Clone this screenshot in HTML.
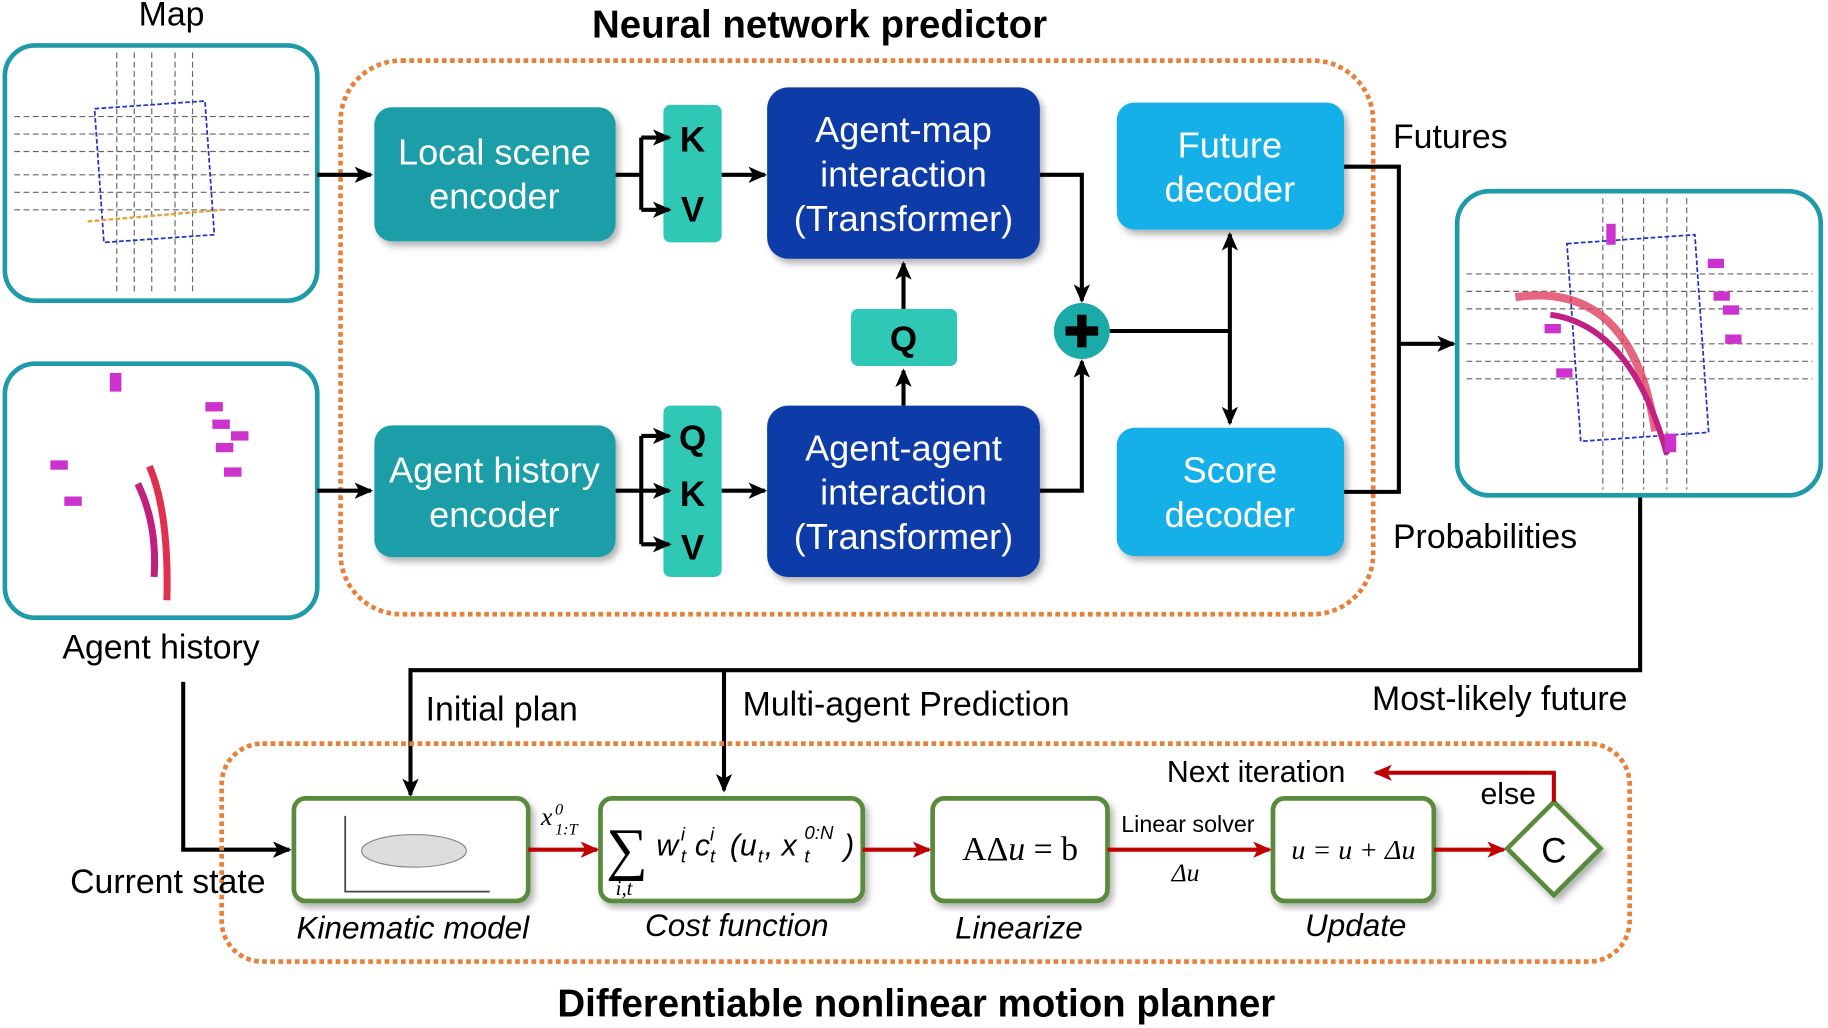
<!DOCTYPE html>
<html><head><meta charset="utf-8"><style>
html,body{margin:0;padding:0;background:#fff;}
svg{display:block;}
text{font-family:"Liberation Sans",sans-serif;}
.w{fill:#fff;font-size:31px;text-anchor:middle;}
.b{fill:#000;font-size:29px;}
.m{font-family:"Liberation Serif",serif;font-style:italic;}
.sr{font-family:"Liberation Serif",serif;}
</style></head><body>
<svg width="1828" height="1028" viewBox="0 0 1568 882" xmlns="http://www.w3.org/2000/svg">
<defs>
<marker id="ak" markerWidth="16" markerHeight="16" refX="14" refY="8" orient="auto" markerUnits="userSpaceOnUse"><path d="M0,1 L16,8 L0,15 L4,8z" fill="#000"/></marker>
<marker id="ar" markerWidth="16" markerHeight="16" refX="14" refY="8" orient="auto" markerUnits="userSpaceOnUse"><path d="M0,1 L16,8 L0,15 L4,8z" fill="#c00000"/></marker>
<filter id="s"><feDropShadow dx="3" dy="4" stdDeviation="3" flood-opacity="0.3"/></filter>
</defs>

<text x="703" y="32" font-size="33" font-weight="bold" text-anchor="middle">Neural network predictor</text>
<text x="147" y="22" class="b" text-anchor="middle">Map</text>

<rect x="4" y="39" width="268" height="219" rx="26" fill="#fff" stroke="#1e9aa8" stroke-width="4"/>
<g stroke="#666" stroke-width="1" stroke-dasharray="5,3" fill="none">
<path d="M12 100 H265 M12 115 H265 M12 130 H265 M12 150 H265 M12 165 H265 M12 180 H265"/>
<path d="M100 45 V252 M115 45 V252 M130 45 V252 M150 45 V252 M165 45 V252"/>
</g>
<rect x="85" y="90" width="95" height="115" fill="none" stroke="#2233cc" stroke-width="1.5" stroke-dasharray="4,2" transform="rotate(-4 130 150)"/>
<path d="M75 190 L190 180" stroke="#e8a030" stroke-width="2" stroke-dasharray="4,2"/>

<rect x="4" y="312" width="268" height="218" rx="26" fill="#fff" stroke="#1e9aa8" stroke-width="4"/>
<g fill="#cc33cc">
<rect x="94" y="320" width="10" height="16"/><rect x="176" y="345" width="15" height="8"/><rect x="182" y="360" width="15" height="8"/><rect x="198" y="370" width="15" height="8"/><rect x="185" y="380" width="15" height="8"/><rect x="192" y="401" width="15" height="8"/><rect x="43" y="395" width="15" height="8"/><rect x="55" y="426" width="15" height="8"/>
</g>
<path d="M118 415 Q135 450 132 495" stroke="#c02080" stroke-width="6" fill="none"/>
<path d="M128 400 Q145 440 143 515" stroke="#e03050" stroke-width="6" fill="none"/>
<text x="138" y="565" class="b" text-anchor="middle">Agent history</text>

<rect x="292" y="52" width="886" height="475" rx="52" fill="none" stroke="#e8803a" stroke-width="4" stroke-dasharray="4,3"/>

<rect x="321" y="92" width="207" height="115" rx="15" fill="#1a9ea8" filter="url(#s)"/>
<text x="424" y="141" class="w">Local scene</text><text x="424" y="179" class="w">encoder</text>
<rect x="321" y="365" width="207" height="113" rx="15" fill="#1a9ea8" filter="url(#s)"/>
<text x="424" y="414" class="w">Agent history</text><text x="424" y="452" class="w">encoder</text>

<rect x="569" y="90" width="50" height="118" rx="6" fill="#2ec8b4"/>
<rect x="569" y="348" width="50" height="147" rx="6" fill="#2ec8b4"/>
<g font-size="30" font-weight="bold" text-anchor="middle">
<text x="594" y="130">K</text><text x="594" y="190">V</text>
<text x="594" y="386">Q</text><text x="594" y="434">K</text><text x="594" y="480">V</text>
</g>

<rect x="658" y="75" width="234" height="147" rx="18" fill="#0f3aa8" filter="url(#s)"/>
<text x="775" y="122" class="w">Agent-map</text><text x="775" y="160" class="w">interaction</text><text x="775" y="198" class="w">(Transformer)</text>
<rect x="658" y="348" width="234" height="147" rx="18" fill="#0f3aa8" filter="url(#s)"/>
<text x="775" y="395" class="w">Agent-agent</text><text x="775" y="433" class="w">interaction</text><text x="775" y="471" class="w">(Transformer)</text>

<rect x="730" y="265" width="91" height="49" rx="6" fill="#2ec8b4"/>
<text x="775" y="301" font-size="30" font-weight="bold" text-anchor="middle">Q</text>

<rect x="958" y="88" width="195" height="109" rx="15" fill="#15b0e8" filter="url(#s)"/>
<text x="1055" y="135" class="w">Future</text><text x="1055" y="173" class="w">decoder</text>
<rect x="958" y="367" width="195" height="110" rx="15" fill="#15b0e8" filter="url(#s)"/>
<text x="1055" y="414" class="w">Score</text><text x="1055" y="452" class="w">decoder</text>

<circle cx="928" cy="284" r="24" fill="#1aaaa8"/>
<path d="M928 270 V298 M914 284 H942" stroke="#000" stroke-width="8"/>

<g stroke="#000" stroke-width="3.5" fill="none">
<path d="M272 150 H318" marker-end="url(#ak)"/>
<path d="M272 421 H318" marker-end="url(#ak)"/>
<path d="M528 150 H550 M550 118 V180 M550 118 H574" marker-end="url(#ak)"/>
<path d="M550 180 H574" marker-end="url(#ak)"/>
<path d="M528 421 H574" marker-end="url(#ak)"/>
<path d="M550 374 V467 M550 374 H574" marker-end="url(#ak)"/>
<path d="M550 467 H574" marker-end="url(#ak)"/>
<path d="M619 150 H656" marker-end="url(#ak)"/>
<path d="M619 421 H656" marker-end="url(#ak)"/>
<path d="M775 348 V318" marker-end="url(#ak)"/>
<path d="M775 265 V226" marker-end="url(#ak)"/>
<path d="M892 150 H928 V258" marker-end="url(#ak)"/>
<path d="M892 421 H928 V310" marker-end="url(#ak)"/>
<path d="M952 284 H1055"/>
<path d="M1055 284 V201" marker-end="url(#ak)"/>
<path d="M1055 284 V363" marker-end="url(#ak)"/>
<path d="M1153 143 H1200 V422 H1153"/>
<path d="M1200 295 H1247" marker-end="url(#ak)"/>
<path d="M1407 425 V575 H352 V682" marker-end="url(#ak)"/>
<path d="M621 575 V678" marker-end="url(#ak)"/>
<path d="M157 585 V729 H248" marker-end="url(#ak)"/>
</g>

<text x="1195" y="127" class="b">Futures</text>
<text x="1195" y="470" class="b">Probabilities</text>

<rect x="1250" y="164" width="312" height="261" rx="28" fill="#fff" stroke="#1e9aa8" stroke-width="4"/>
<g stroke="#666" stroke-width="1" stroke-dasharray="5,3" fill="none">
<path d="M1258 235 H1555 M1258 250 H1555 M1258 265 H1555 M1258 295 H1555 M1258 310 H1555 M1258 325 H1555"/>
<path d="M1375 170 V420 M1392 170 V420 M1410 170 V420 M1430 170 V420 M1447 170 V420"/>
</g>
<rect x="1350" y="205" width="110" height="170" fill="none" stroke="#2233cc" stroke-width="1.5" stroke-dasharray="4,2" transform="rotate(-4 1405 290)"/>
<path d="M1300 255 Q1400 240 1420 370" stroke="#e04060" stroke-width="7" fill="none" opacity="0.8"/>
<path d="M1330 270 Q1400 280 1430 390" stroke="#c02080" stroke-width="5" fill="none"/>
<g fill="#cc33cc"><rect x="1378" y="192" width="8" height="18"/><rect x="1465" y="222" width="14" height="8"/><rect x="1470" y="250" width="14" height="8"/><rect x="1478" y="262" width="14" height="8"/><rect x="1480" y="287" width="14" height="8"/><rect x="1335" y="316" width="14" height="8"/><rect x="1325" y="278" width="14" height="8"/><rect x="1428" y="372" width="10" height="16"/></g>

<text x="365" y="618" class="b">Initial plan</text>
<text x="637" y="614" class="b">Multi-agent Prediction</text>
<text x="1177" y="609" class="b">Most-likely future</text>

<rect x="190" y="638" width="1208" height="187" rx="35" fill="none" stroke="#e8803a" stroke-width="4" stroke-dasharray="4,3"/>

<g fill="#fff" stroke="#5a8a3a" stroke-width="4" filter="url(#s)">
<rect x="252" y="685" width="201" height="88" rx="10"/>
<rect x="515" y="685" width="225" height="88" rx="10"/>
<rect x="800" y="685" width="150" height="88" rx="10"/>
<rect x="1092" y="685" width="138" height="88" rx="10"/>
<path d="M1333 688 L1373 728 L1333 768 L1293 728 Z"/>
</g>
<path d="M296 700 V765 H420" stroke="#444" stroke-width="1.5" fill="none"/>
<ellipse cx="355" cy="730" rx="45" ry="14" fill="#ddd" stroke="#888"/>
<text x="1333" y="740" font-size="30" text-anchor="middle">C</text>

<g stroke="#c00000" stroke-width="3.5" fill="none">
<path d="M453 729 H512" marker-end="url(#ar)"/>
<path d="M740 729 H797" marker-end="url(#ar)"/>
<path d="M950 729 H1089" marker-end="url(#ar)"/>
<path d="M1230 729 H1290" marker-end="url(#ar)"/>
<path d="M1333 688 V663 H1180" marker-end="url(#ar)"/>
</g>

<text x="60" y="766" class="b">Current state</text>
<text x="464" y="708" class="m" font-size="22">x</text>
<text x="476" y="699" class="m" font-size="14">0</text>
<text x="476" y="716" class="m" font-size="14">1:T</text>
<text x="520" y="745" class="sr" font-size="50">∑</text>
<text x="528" y="768" class="m" font-size="18">i,t</text>
<g class="m" font-size="26">
<text x="563" y="734">w</text>
<text x="584" y="721" font-size="16">i</text>
<text x="584" y="740" font-size="16">t</text>
<text x="596" y="734">c</text>
<text x="609" y="721" font-size="16">i</text>
<text x="609" y="740" font-size="16">t</text>
<text x="626" y="734">(u</text>
<text x="650" y="740" font-size="16">t</text>
<text x="656" y="734">, x</text>
<text x="690" y="720" font-size="16">0:N</text>
<text x="690" y="740" font-size="16">t</text>
<text x="724" y="734">)</text>
</g>
<text x="875" y="738" class="sr" font-size="29" text-anchor="middle">AΔ<tspan font-style="italic">u</tspan> = b</text>
<text x="1161" y="737" class="m" font-size="24" text-anchor="middle">u = u + Δu</text>
<text x="1019" y="714" font-size="20" text-anchor="middle">Linear solver</text>
<text x="1017" y="756" class="m" font-size="22" text-anchor="middle">Δu</text>
<text x="1001" y="671" font-size="26">Next iteration</text>
<text x="1270" y="690" font-size="26">else</text>

<g font-size="27" font-style="italic" text-anchor="middle">
<text x="354" y="805">Kinematic model</text>
<text x="632" y="803">Cost function</text>
<text x="874" y="805">Linearize</text>
<text x="1163" y="803">Update</text>
</g>
<text x="786" y="872" font-size="33" font-weight="bold" text-anchor="middle">Differentiable nonlinear motion planner</text>
</svg>
</body></html>
